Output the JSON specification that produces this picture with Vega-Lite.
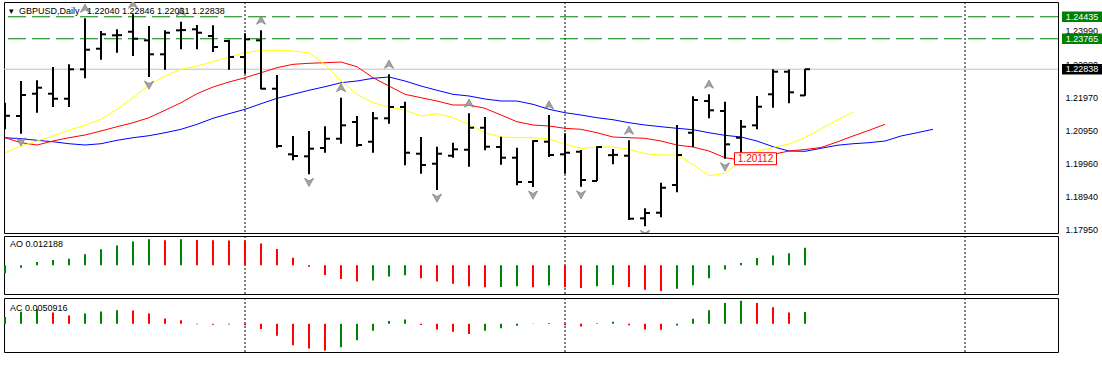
{
  "$schema": "https://vega.github.io/schema/vega-lite/v6.json",
  "padding": {"left": 2, "top": 1, "right": 0, "bottom": 0},
  "background": "white",
  "spacing": 0,
  "config": {
    "view": {"stroke": "#000000", "strokeWidth": 1},
    "font": "Liberation Sans",
    "axis": {"labelFont": "Liberation Sans", "labelFontSize": 9, "labelColor": "#000000", "gridColor": "#c0c0c0", "gridDash": [3, 3], "gridWidth": 1, "domain": false, "tickColor": "#000000", "title": null},
    "tick": {"opacity": 1},
    "point": {"opacity": 1}
  },
  "resolve": {"scale": {"x": "independent", "y": "independent", "color": "independent", "shape": "independent", "fill": "independent"}},
  "datasets": {
    "bars": [
      {"i":0,"o":1.21410,"h":1.21818,"l":1.21008,"c":1.21420,"ao":-0.00569,"aoDir":"up","ac":0.00296,"acDir":"up"},
      {"i":1,"o":1.21413,"h":1.22479,"l":1.20874,"c":1.22052,"ao":-0.00182,"aoDir":"up","ac":0.00518,"acDir":"up"},
      {"i":2,"o":1.22092,"h":1.22500,"l":1.21513,"c":1.22274,"ao":0.00228,"aoDir":"up","ac":0.00621,"acDir":"up"},
      {"i":3,"o":1.22092,"h":1.22905,"l":1.21687,"c":1.21939,"ao":0.00364,"aoDir":"up","ac":0.00488,"acDir":"down"},
      {"i":4,"o":1.21939,"h":1.22987,"l":1.21687,"c":1.22835,"ao":0.00455,"aoDir":"up","ac":0.00355,"acDir":"down"},
      {"i":5,"o":1.22835,"h":1.24388,"l":1.22561,"c":1.23432,"ao":0.00774,"aoDir":"up","ac":0.00444,"acDir":"up"},
      {"i":6,"o":1.23462,"h":1.24001,"l":1.23127,"c":1.23901,"ao":0.01115,"aoDir":"up","ac":0.00532,"acDir":"up"},
      {"i":7,"o":1.23870,"h":1.24053,"l":1.23340,"c":1.23875,"ao":0.01388,"aoDir":"up","ac":0.00577,"acDir":"up"},
      {"i":8,"o":1.23980,"h":1.24510,"l":1.23240,"c":1.23767,"ao":0.01661,"aoDir":"up","ac":0.00570,"acDir":"down"},
      {"i":9,"o":1.23718,"h":1.24153,"l":1.22600,"c":1.23292,"ao":0.01820,"aoDir":"up","ac":0.00444,"acDir":"down"},
      {"i":10,"o":1.23292,"h":1.24022,"l":1.22823,"c":1.23949,"ao":0.01752,"aoDir":"down","ac":0.00222,"acDir":"down"},
      {"i":11,"o":1.24022,"h":1.24284,"l":1.23444,"c":1.24030,"ao":0.01825,"aoDir":"up","ac":0.00148,"acDir":"down"},
      {"i":12,"o":1.24053,"h":1.24184,"l":1.23444,"c":1.23949,"ao":0.01760,"aoDir":"down","ac":-0.00020,"acDir":"down"},
      {"i":13,"o":1.23849,"h":1.24175,"l":1.23362,"c":1.23514,"ao":0.01750,"aoDir":"down","ac":-0.00040,"acDir":"down"},
      {"i":14,"o":1.23697,"h":1.23736,"l":1.22823,"c":1.23209,"ao":0.01740,"aoDir":"down","ac":-0.00030,"acDir":"up"},
      {"i":15,"o":1.23209,"h":1.23931,"l":1.22701,"c":1.23748,"ao":0.01730,"aoDir":"down","ac":-0.00060,"acDir":"down"},
      {"i":16,"o":1.23718,"h":1.24022,"l":1.22226,"c":1.22244,"ao":0.01524,"aoDir":"down","ac":-0.00220,"acDir":"down"},
      {"i":17,"o":1.22244,"h":1.22661,"l":1.20447,"c":1.20499,"ao":0.01138,"aoDir":"down","ac":-0.00520,"acDir":"down"},
      {"i":18,"o":1.20246,"h":1.20804,"l":1.20064,"c":1.20195,"ao":0.00523,"aoDir":"down","ac":-0.00920,"acDir":"down"},
      {"i":19,"o":1.20185,"h":1.20956,"l":1.19637,"c":1.20417,"ao":-0.00114,"aoDir":"down","ac":-0.01060,"acDir":"down"},
      {"i":20,"o":1.20438,"h":1.21099,"l":1.20295,"c":1.20721,"ao":-0.00683,"aoDir":"down","ac":-0.01150,"acDir":"down"},
      {"i":21,"o":1.20721,"h":1.21970,"l":1.20569,"c":1.21129,"ao":-0.00978,"aoDir":"down","ac":-0.01010,"acDir":"up"},
      {"i":22,"o":1.21230,"h":1.21413,"l":1.20478,"c":1.20530,"ao":-0.01138,"aoDir":"down","ac":-0.00710,"acDir":"up"},
      {"i":23,"o":1.20630,"h":1.21534,"l":1.20295,"c":1.21343,"ao":-0.01069,"aoDir":"up","ac":-0.00300,"acDir":"up"},
      {"i":24,"o":1.21343,"h":1.22683,"l":1.21178,"c":1.21687,"ao":-0.00796,"aoDir":"up","ac":0.00120,"acDir":"up"},
      {"i":25,"o":1.21687,"h":1.21848,"l":1.19911,"c":1.20295,"ao":-0.00705,"aoDir":"up","ac":0.00180,"acDir":"up"},
      {"i":26,"o":1.20265,"h":1.20773,"l":1.19655,"c":1.19920,"ao":-0.00910,"aoDir":"down","ac":-0.00050,"acDir":"down"},
      {"i":27,"o":1.19960,"h":1.20478,"l":1.19159,"c":1.20265,"ao":-0.01138,"aoDir":"down","ac":-0.00250,"acDir":"down"},
      {"i":28,"o":1.20204,"h":1.20600,"l":1.20143,"c":1.20399,"ao":-0.01297,"aoDir":"down","ac":-0.00340,"acDir":"down"},
      {"i":29,"o":1.20386,"h":1.21495,"l":1.19869,"c":1.21056,"ao":-0.01479,"aoDir":"down","ac":-0.00440,"acDir":"down"},
      {"i":30,"o":1.21056,"h":1.21382,"l":1.20368,"c":1.20478,"ao":-0.01547,"aoDir":"down","ac":-0.00300,"acDir":"up"},
      {"i":31,"o":1.20469,"h":1.20782,"l":1.19930,"c":1.20143,"ao":-0.01524,"aoDir":"up","ac":-0.00190,"acDir":"up"},
      {"i":32,"o":1.20143,"h":1.20447,"l":1.19302,"c":1.19403,"ao":-0.01479,"aoDir":"up","ac":-0.00090,"acDir":"up"},
      {"i":33,"o":1.19403,"h":1.20673,"l":1.19250,"c":1.20651,"ao":-0.01547,"aoDir":"down","ac":0.00010,"acDir":"up"},
      {"i":34,"o":1.20630,"h":1.21443,"l":1.20164,"c":1.20225,"ao":-0.01433,"aoDir":"up","ac":0.00030,"acDir":"up"},
      {"i":35,"o":1.20246,"h":1.20886,"l":1.19655,"c":1.20295,"ao":-0.01547,"aoDir":"down","ac":-0.00060,"acDir":"down"},
      {"i":36,"o":1.20325,"h":1.20377,"l":1.19260,"c":1.19464,"ao":-0.01593,"aoDir":"down","ac":-0.00120,"acDir":"down"},
      {"i":37,"o":1.19433,"h":1.20490,"l":1.19433,"c":1.20469,"ao":-0.01479,"aoDir":"up","ac":0.00020,"acDir":"up"},
      {"i":38,"o":1.20220,"h":1.20408,"l":1.19942,"c":1.20230,"ao":-0.01388,"aoDir":"up","ac":0.00090,"acDir":"up"},
      {"i":39,"o":1.20204,"h":1.20673,"l":1.18245,"c":1.18285,"ao":-0.01524,"aoDir":"down","ac":-0.00060,"acDir":"down"},
      {"i":40,"o":1.18297,"h":1.18602,"l":1.18054,"c":1.18459,"ao":-0.01729,"aoDir":"down","ac":-0.00250,"acDir":"down"},
      {"i":41,"o":1.18468,"h":1.19381,"l":1.18328,"c":1.19229,"ao":-0.01820,"aoDir":"down","ac":-0.00260,"acDir":"down"},
      {"i":42,"o":1.19311,"h":1.21139,"l":1.19089,"c":1.20225,"ao":-0.01661,"aoDir":"up","ac":-0.00070,"acDir":"up"},
      {"i":43,"o":1.20904,"h":1.22013,"l":1.20469,"c":1.21900,"ao":-0.01411,"aoDir":"up","ac":0.00220,"acDir":"up"},
      {"i":44,"o":1.21869,"h":1.22074,"l":1.21343,"c":1.21586,"ao":-0.00910,"aoDir":"up","ac":0.00580,"acDir":"up"},
      {"i":45,"o":1.21565,"h":1.21848,"l":1.20112,"c":1.20551,"ao":-0.00296,"aoDir":"up","ac":0.00890,"acDir":"up"},
      {"i":46,"o":1.20752,"h":1.21291,"l":1.20255,"c":1.21087,"ao":0.00159,"aoDir":"up","ac":0.00990,"acDir":"up"},
      {"i":47,"o":1.21129,"h":1.22022,"l":1.21008,"c":1.21696,"ao":0.00501,"aoDir":"up","ac":0.00890,"acDir":"down"},
      {"i":48,"o":1.22074,"h":1.22835,"l":1.21665,"c":1.22762,"ao":0.00683,"aoDir":"up","ac":0.00710,"acDir":"down"},
      {"i":49,"o":1.22762,"h":1.22830,"l":1.21799,"c":1.22134,"ao":0.00842,"aoDir":"up","ac":0.00490,"acDir":"down"},
      {"i":50,"o":1.22040,"h":1.22846,"l":1.22031,"c":1.22838,"ao":0.012188,"aoDir":"up","ac":0.0050916,"acDir":"up"}
    ],
    "alligator": [
      {"i":0,"jaw":1.20752,"teeth":1.20752,"lips":1.20295},
      {"i":1,"jaw":1.20721,"teeth":1.20600,"lips":1.20499},
      {"i":2,"jaw":1.20673,"teeth":1.20530,"lips":1.20651},
      {"i":3,"jaw":1.20630,"teeth":1.20651,"lips":1.20804},
      {"i":4,"jaw":1.20569,"teeth":1.20752,"lips":1.20977},
      {"i":5,"jaw":1.20530,"teeth":1.20834,"lips":1.21139},
      {"i":6,"jaw":1.20569,"teeth":1.20956,"lips":1.21312},
      {"i":7,"jaw":1.20673,"teeth":1.21087,"lips":1.21617},
      {"i":8,"jaw":1.20752,"teeth":1.21209,"lips":1.21970},
      {"i":9,"jaw":1.20813,"teeth":1.21361,"lips":1.22357},
      {"i":10,"jaw":1.20904,"teeth":1.21586,"lips":1.22631},
      {"i":11,"jaw":1.21008,"teeth":1.21818,"lips":1.22835},
      {"i":12,"jaw":1.21160,"teeth":1.22092,"lips":1.22935},
      {"i":13,"jaw":1.21343,"teeth":1.22296,"lips":1.23066},
      {"i":14,"jaw":1.21483,"teeth":1.22448,"lips":1.23210},
      {"i":15,"jaw":1.21617,"teeth":1.22579,"lips":1.23340},
      {"i":16,"jaw":1.21787,"teeth":1.22731,"lips":1.23414},
      {"i":17,"jaw":1.21952,"teeth":1.22884,"lips":1.23414},
      {"i":18,"jaw":1.22074,"teeth":1.22987,"lips":1.23392},
      {"i":19,"jaw":1.22196,"teeth":1.23018,"lips":1.23340},
      {"i":20,"jaw":1.22305,"teeth":1.23036,"lips":1.22987},
      {"i":21,"jaw":1.22427,"teeth":1.23057,"lips":1.22479},
      {"i":22,"jaw":1.22479,"teeth":1.22914,"lips":1.22074},
      {"i":23,"jaw":1.22561,"teeth":1.22579,"lips":1.21818},
      {"i":24,"jaw":1.22601,"teeth":1.22326,"lips":1.21687},
      {"i":25,"jaw":1.22479,"teeth":1.22074,"lips":1.21586},
      {"i":26,"jaw":1.22326,"teeth":1.21970,"lips":1.21413},
      {"i":27,"jaw":1.22196,"teeth":1.21870,"lips":1.21483},
      {"i":28,"jaw":1.22074,"teeth":1.21748,"lips":1.21361},
      {"i":29,"jaw":1.22022,"teeth":1.21748,"lips":1.21160},
      {"i":30,"jaw":1.21931,"teeth":1.21647,"lips":1.20904},
      {"i":31,"jaw":1.21870,"teeth":1.21443,"lips":1.20773},
      {"i":32,"jaw":1.21870,"teeth":1.21239,"lips":1.20752},
      {"i":33,"jaw":1.21769,"teeth":1.21139,"lips":1.20752},
      {"i":34,"jaw":1.21617,"teeth":1.21108,"lips":1.20721},
      {"i":35,"jaw":1.21513,"teeth":1.21038,"lips":1.20551},
      {"i":36,"jaw":1.21443,"teeth":1.21008,"lips":1.20429},
      {"i":37,"jaw":1.21361,"teeth":1.20904,"lips":1.20469},
      {"i":38,"jaw":1.21300,"teeth":1.20773,"lips":1.20469},
      {"i":39,"jaw":1.21209,"teeth":1.20752,"lips":1.20399},
      {"i":40,"jaw":1.21139,"teeth":1.20734,"lips":1.20265},
      {"i":41,"jaw":1.21087,"teeth":1.20651,"lips":1.20225},
      {"i":42,"jaw":1.21038,"teeth":1.20530,"lips":1.20225},
      {"i":43,"jaw":1.20996,"teeth":1.20469,"lips":1.19942},
      {"i":44,"jaw":1.20904,"teeth":1.20347,"lips":1.19585},
      {"i":45,"jaw":1.20825,"teeth":1.20143,"lips":1.19677},
      {"i":46,"jaw":1.20773,"teeth":1.20073,"lips":1.20042},
      {"i":47,"jaw":1.20651,"teeth":1.20134,"lips":1.20347},
      {"i":48,"jaw":1.20478,"teeth":1.20246,"lips":1.20453},
      {"i":49,"jaw":1.20347,"teeth":1.20347,"lips":1.20560},
      {"i":50,"jaw":1.20338,"teeth":1.20393,"lips":1.20758},
      {"i":51,"jaw":1.20429,"teeth":1.20453,"lips":1.21017},
      {"i":52,"jaw":1.20521,"teeth":1.20621,"lips":1.21291},
      {"i":53,"jaw":1.20569,"teeth":1.20804,"lips":1.21535},
      {"i":54,"jaw":1.20600,"teeth":1.20977},
      {"i":55,"jaw":1.20651,"teeth":1.21160},
      {"i":56,"jaw":1.20804},
      {"i":57,"jaw":1.20904},
      {"i":58,"jaw":1.21008}
    ],
    "fractals": [
      {"i":1,"f":"down","p":1.20874},{"i":5,"f":"up","p":1.24388},{"i":8,"f":"up","p":1.24510},
      {"i":9,"f":"down","p":1.22600},{"i":11,"f":"up","p":1.24284},{"i":16,"f":"up","p":1.24022},
      {"i":19,"f":"down","p":1.19637},{"i":21,"f":"up","p":1.21970},{"i":24,"f":"up","p":1.22683},
      {"i":27,"f":"down","p":1.19159},{"i":29,"f":"up","p":1.21495},{"i":33,"f":"down","p":1.19250},
      {"i":34,"f":"up","p":1.21443},{"i":36,"f":"down","p":1.19260},{"i":39,"f":"up","p":1.20673},
      {"i":40,"f":"down","p":1.18054},{"i":44,"f":"up","p":1.22074},{"i":45,"f":"down","p":1.20112}
    ],
    "levels": [
      {"p":1.24435,"kind":"line"},
      {"p":1.23765,"kind":"line"},
      {"p":1.22838,"kind":"bid"},
      {"p":1.20112,"kind":"low","i":45}
    ],
    "captions": [
      {"panel":"main","t":"▾\u00a0\u00a0GBPUSD,Daily\u00a0\u00a0\u00a01.22040 1.22846 1.22031 1.22838","i":0,"v":1.24510},
      {"panel":"ao","t":"AO 0.012188","i":0,"v":0.020474},
      {"panel":"ac","t":"AC 0.0050916","i":0,"v":0.0110903}
    ],
    "pticks": [{"p":1.1795},{"p":1.1894},{"p":1.1996},{"p":1.2095},{"p":1.2197},{"p":1.2298},{"p":1.2399}],
    "seps": [{"s":15},{"s":35},{"s":60}]
  },
  "vconcat": [
    {
      "hconcat": [
        {
          "width": 1054,
          "height": 231,
          "layer": [
            {
              "data": {"name": "seps"},
              "mark": {"type": "rule", "color": "#000000", "strokeDash": [2, 2], "strokeWidth": 1},
              "encoding": {
                "x": {"field": "s", "type": "quantitative", "scale": {"domain": [-0.0625, 65.8125], "nice": false, "zero": false},
                  "axis": {"values": [0,2,4,6,8,10,12,14,16,18,20,22,24,26,28,30,32,34,36,38,40,42,44,46,48,50,52,54,56,58,60,62,64], "labels": false, "ticks": false, "domain": false, "grid": true, "title": null, "minExtent": 0, "maxExtent": 0,
                    "encode": {"grid": {"update": {"opacity": {"signal": "datum.value === 0 ? 0 : 1"}}}}}}
              }
            },
            {
              "data": {"name": "levels"},
              "transform": [{"filter": "datum.kind === 'line'"}],
              "mark": {"type": "rule", "color": "#008000", "strokeDash": [18, 6], "strokeWidth": 1},
              "encoding": {
                "y": {"field": "p", "type": "quantitative", "scale": {"domain": [1.1785, 1.24885], "nice": false, "zero": false},
                  "axis": {"orient": "right", "values": [1.1795, 1.1894, 1.1996, 1.2095, 1.2197, 1.2298, 1.2399], "grid": true, "labels": false, "ticks": false, "domain": false, "title": null, "minExtent": 0, "maxExtent": 0}}
              }
            },
            {
              "data": {"name": "levels"},
              "transform": [{"filter": "datum.kind === 'bid'"}],
              "mark": {"type": "rule", "color": "#c0c0c0", "strokeWidth": 1},
              "encoding": {
                "y": {"field": "p", "type": "quantitative", "scale": {"domain": [1.1785, 1.24885], "nice": false, "zero": false}, "axis": null}
              }
            },
            {
              "data": {"name": "alligator"},
              "mark": {"type": "line", "color": "#0000ff", "strokeWidth": 1},
              "encoding": {
                "x": {"field": "i", "type": "quantitative", "scale": {"domain": [-0.0625, 65.8125], "nice": false, "zero": false}, "axis": null},
                "y": {"field": "jaw", "type": "quantitative", "scale": {"domain": [1.1785, 1.24885], "nice": false, "zero": false}, "axis": null}
              }
            },
            {
              "data": {"name": "alligator"},
              "mark": {"type": "line", "color": "#ff0000", "strokeWidth": 1},
              "encoding": {
                "x": {"field": "i", "type": "quantitative", "scale": {"domain": [-0.0625, 65.8125], "nice": false, "zero": false}, "axis": null},
                "y": {"field": "teeth", "type": "quantitative", "scale": {"domain": [1.1785, 1.24885], "nice": false, "zero": false}, "axis": null}
              }
            },
            {
              "data": {"name": "alligator"},
              "mark": {"type": "line", "color": "#ffff00", "strokeWidth": 1},
              "encoding": {
                "x": {"field": "i", "type": "quantitative", "scale": {"domain": [-0.0625, 65.8125], "nice": false, "zero": false}, "axis": null},
                "y": {"field": "lips", "type": "quantitative", "scale": {"domain": [1.1785, 1.24885], "nice": false, "zero": false}, "axis": null}
              }
            },
            {
              "data": {"name": "bars"},
              "mark": {"type": "rule", "color": "#000000", "strokeWidth": 2},
              "encoding": {
                "x": {"field": "i", "type": "quantitative", "scale": {"domain": [-0.0625, 65.8125], "nice": false, "zero": false}, "axis": null},
                "y": {"field": "l", "type": "quantitative", "scale": {"domain": [1.1785, 1.24885], "nice": false, "zero": false}, "axis": null},
                "y2": {"field": "h"}
              }
            },
            {
              "data": {"name": "bars"},
              "transform": [{"filter": "datum.i > 0"}],
              "mark": {"type": "tick", "orient": "horizontal", "color": "#000000", "size": 5, "thickness": 2, "xOffset": -2.5, "opacity": 1},
              "encoding": {
                "x": {"field": "i", "type": "quantitative", "scale": {"domain": [-0.0625, 65.8125], "nice": false, "zero": false}, "axis": null},
                "y": {"field": "o", "type": "quantitative", "scale": {"domain": [1.1785, 1.24885], "nice": false, "zero": false}, "axis": null}
              }
            },
            {
              "data": {"name": "bars"},
              "mark": {"type": "tick", "orient": "horizontal", "color": "#000000", "size": 5, "thickness": 2, "xOffset": 2.5, "opacity": 1},
              "encoding": {
                "x": {"field": "i", "type": "quantitative", "scale": {"domain": [-0.0625, 65.8125], "nice": false, "zero": false}, "axis": null},
                "y": {"field": "c", "type": "quantitative", "scale": {"domain": [1.1785, 1.24885], "nice": false, "zero": false}, "axis": null}
              }
            },
            {
              "data": {"name": "fractals"},
              "transform": [{"filter": "datum.f === 'up'"}],
              "mark": {"type": "point", "shape": "M0,-0.7L0.75,0.65L0,0.25L-0.75,0.65Z", "size": 150, "filled": true, "fill": "#a4a4a4", "stroke": "#6e6e6e", "strokeWidth": 0.6, "opacity": 1, "yOffset": -10, "clip": true},
              "encoding": {
                "x": {"field": "i", "type": "quantitative", "scale": {"domain": [-0.0625, 65.8125], "nice": false, "zero": false}, "axis": null},
                "y": {"field": "p", "type": "quantitative", "scale": {"domain": [1.1785, 1.24885], "nice": false, "zero": false}, "axis": null}
              }
            },
            {
              "data": {"name": "fractals"},
              "transform": [{"filter": "datum.f === 'down'"}],
              "mark": {"type": "point", "shape": "M0,0.7L0.75,-0.65L0,-0.25L-0.75,-0.65Z", "size": 150, "filled": true, "fill": "#a4a4a4", "stroke": "#6e6e6e", "strokeWidth": 0.6, "opacity": 1, "yOffset": 8, "clip": true},
              "encoding": {
                "x": {"field": "i", "type": "quantitative", "scale": {"domain": [-0.0625, 65.8125], "nice": false, "zero": false}, "axis": null},
                "y": {"field": "p", "type": "quantitative", "scale": {"domain": [1.1785, 1.24885], "nice": false, "zero": false}, "axis": null}
              }
            },
            {
              "data": {"name": "levels"},
              "transform": [{"filter": "datum.kind === 'low'"}],
              "mark": {"type": "point", "shape": "M-1,-0.286L1,-0.286L1,0.286L-1,0.286Z", "size": 1764, "filled": true, "fill": "#ffffff", "stroke": "#ff0000", "strokeWidth": 1, "opacity": 1, "xOffset": 30.5},
              "encoding": {
                "x": {"field": "i", "type": "quantitative", "scale": {"domain": [-0.0625, 65.8125], "nice": false, "zero": false}, "axis": null},
                "y": {"field": "p", "type": "quantitative", "scale": {"domain": [1.1785, 1.24885], "nice": false, "zero": false}, "axis": null}
              }
            },
            {
              "data": {"name": "levels"},
              "transform": [{"filter": "datum.kind === 'low'"}],
              "mark": {"type": "text", "color": "#ff0000", "fontSize": 10, "font": "Liberation Sans", "align": "center", "baseline": "middle", "xOffset": 30.5},
              "encoding": {
                "x": {"field": "i", "type": "quantitative", "scale": {"domain": [-0.0625, 65.8125], "nice": false, "zero": false}, "axis": null},
                "y": {"field": "p", "type": "quantitative", "scale": {"domain": [1.1785, 1.24885], "nice": false, "zero": false}, "axis": null},
                "text": {"field": "p", "type": "quantitative", "format": ".5f"}
              }
            },
            {
              "data": {"name": "captions"},
              "transform": [{"filter": "datum.panel === 'main'"}],
              "mark": {"type": "text", "color": "#000000", "fontSize": 9, "font": "Liberation Sans", "align": "left", "baseline": "middle", "dx": 4, "dy": -3},
              "encoding": {
                "x": {"field": "i", "type": "quantitative", "scale": {"domain": [-0.0625, 65.8125], "nice": false, "zero": false}, "axis": null},
                "y": {"field": "v", "type": "quantitative", "scale": {"domain": [1.1785, 1.24885], "nice": false, "zero": false}, "axis": null},
                "text": {"field": "t", "type": "nominal"}
              }
            }
          ]
        },
        {
          "width": 46,
          "height": 231,
          "view": {"stroke": null},
          "layer": [
            {
              "data": {"name": "pticks"},
              "mark": {"type": "text", "color": "#000000", "fontSize": 9, "font": "Liberation Sans", "align": "left", "baseline": "middle", "dx": -16.5},
              "encoding": {
                "y": {"field": "p", "type": "quantitative", "scale": {"domain": [1.1785, 1.24885], "nice": false, "zero": false}, "axis": null},
                "text": {"field": "p", "type": "quantitative", "format": ".5f"}
              }
            },
            {
              "data": {"name": "levels"},
              "transform": [{"filter": "datum.kind === 'line' || datum.kind === 'bid'"}],
              "mark": {"type": "point", "shape": "M-1,-0.26L1,-0.26L1,0.26L-1,0.26Z", "size": 1600, "filled": true, "opacity": 1, "strokeWidth": 0},
              "encoding": {
                "y": {"field": "p", "type": "quantitative", "scale": {"domain": [1.1785, 1.24885], "nice": false, "zero": false}, "axis": null},
                "fill": {"field": "kind", "type": "nominal", "scale": {"domain": ["line", "bid"], "range": ["#008000", "#000000"]}, "legend": null}
              }
            },
            {
              "data": {"name": "levels"},
              "transform": [{"filter": "datum.kind === 'line' || datum.kind === 'bid'"}],
              "mark": {"type": "text", "color": "#ffffff", "fontSize": 9, "font": "Liberation Sans", "align": "center", "baseline": "middle"},
              "encoding": {
                "y": {"field": "p", "type": "quantitative", "scale": {"domain": [1.1785, 1.24885], "nice": false, "zero": false}, "axis": null},
                "text": {"field": "p", "type": "quantitative", "format": ".5f"}
              }
            }
          ]
        }
      ],
      "spacing": 0,
      "resolve": {"scale": {"x": "independent", "y": "independent", "fill": "independent"}}
    },
    {
      "vconcat": [
        {
          "width": 1054,
          "height": 58,
          "layer": [
            {
              "data": {"name": "seps"},
              "mark": {"type": "rule", "color": "#000000", "strokeDash": [2, 2], "strokeWidth": 1},
              "encoding": {
                "x": {"field": "s", "type": "quantitative", "scale": {"domain": [-0.0625, 65.8125], "nice": false, "zero": false},
                  "axis": {"values": [0,2,4,6,8,10,12,14,16,18,20,22,24,26,28,30,32,34,36,38,40,42,44,46,48,50,52,54,56,58,60,62,64], "labels": false, "ticks": false, "domain": false, "grid": true, "title": null, "minExtent": 0, "maxExtent": 0,
                    "encode": {"grid": {"update": {"opacity": {"signal": "datum.value === 0 ? 0 : 1"}}}}}}
              }
            },
            {
              "data": {"name": "bars"},
              "mark": {"type": "rule", "strokeWidth": 2},
              "encoding": {
                "x": {"field": "i", "type": "quantitative", "scale": {"domain": [-0.0625, 65.8125], "nice": false, "zero": false}, "axis": null},
                "y": {"field": "ao", "type": "quantitative", "scale": {"domain": [-0.020227, 0.020474], "nice": false, "zero": false},
                  "axis": {"orient": "right", "values": [0.020474, 0, -0.020227], "grid": true, "tickSize": 2, "labelPadding": 1, "domain": false, "title": null,
                    "labelExpr": "datum.value > 0 ? '0.020474' : (datum.value < 0 ? '-0.020227' : '0.00')",
                    "encode": {
                      "labels": {"update": {"baseline": {"signal": "datum.value > 0 ? 'top' : (datum.value < 0 ? 'bottom' : 'middle')"}, "dy": {"signal": "datum.value > 0 ? 3 : (datum.value < 0 ? -3 : 0)"}}},
                      "grid": {"update": {"opacity": {"signal": "datum.value === 0 ? 1 : 0"}}}
                    }}},
                "y2": {"datum": 0},
                "color": {"field": "aoDir", "type": "nominal", "scale": {"domain": ["up", "down"], "range": ["#008000", "#ff0000"]}, "legend": null}
              }
            },
            {
              "data": {"name": "captions"},
              "transform": [{"filter": "datum.panel === 'ao'"}],
              "mark": {"type": "text", "color": "#000000", "fontSize": 9, "font": "Liberation Sans", "align": "left", "baseline": "middle", "dx": 5, "dy": 7.7},
              "encoding": {
                "x": {"field": "i", "type": "quantitative", "scale": {"domain": [-0.0625, 65.8125], "nice": false, "zero": false}, "axis": null},
                "y": {"field": "v", "type": "quantitative", "scale": {"domain": [-0.020227, 0.020474], "nice": false, "zero": false}, "axis": null},
                "text": {"field": "t", "type": "nominal"}
              }
            }
          ]
        },
        {
          "width": 1054,
          "height": 54,
          "layer": [
            {
              "data": {"name": "seps"},
              "mark": {"type": "rule", "color": "#000000", "strokeDash": [2, 2], "strokeWidth": 1},
              "encoding": {
                "x": {"field": "s", "type": "quantitative", "scale": {"domain": [-0.0625, 65.8125], "nice": false, "zero": false},
                  "axis": {"values": [0,2,4,6,8,10,12,14,16,18,20,22,24,26,28,30,32,34,36,38,40,42,44,46,48,50,52,54,56,58,60,62,64], "grid": true, "domain": false, "title": null,
                    "tickSize": 4, "labelPadding": 1, "labelAlign": "left", "labelBaseline": "top", "labelFlush": false, "labelOverlap": false, "labelBound": false,
                    "labelExpr": "(datum.value % 4 === 0 && datum.value <= 48) ? ['11 Jan 2023','17 Jan 2023','23 Jan 2023','27 Jan 2023','2 Feb 2023','8 Feb 2023','14 Feb 2023','20 Feb 2023','24 Feb 2023','2 Mar 2023','8 Mar 2023','14 Mar 2023','20 Mar 2023'][datum.value / 4] : ''",
                    "encode": {
                      "ticks": {"update": {"opacity": {"signal": "(datum.value % 4 === 0 && datum.value <= 48) ? 1 : 0"}}},
                      "grid": {"update": {"opacity": {"signal": "datum.value === 0 ? 0 : 1"}}}
                    }}}
              }
            },
            {
              "data": {"name": "bars"},
              "mark": {"type": "rule", "strokeWidth": 2},
              "encoding": {
                "x": {"field": "i", "type": "quantitative", "scale": {"domain": [-0.0625, 65.8125], "nice": false, "zero": false}, "axis": null},
                "y": {"field": "ac", "type": "quantitative", "scale": {"domain": [-0.012149, 0.0110903], "nice": false, "zero": false},
                  "axis": {"orient": "right", "values": [0.0110903, 0, -0.012149], "grid": true, "tickSize": 2, "labelPadding": 1, "domain": false, "title": null,
                    "labelExpr": "datum.value > 0 ? '0.0110903' : (datum.value < 0 ? '-0.012149' : '0.00')",
                    "encode": {
                      "labels": {"update": {"baseline": {"signal": "datum.value > 0 ? 'top' : (datum.value < 0 ? 'bottom' : 'middle')"}, "dy": {"signal": "datum.value > 0 ? 3 : (datum.value < 0 ? -3 : 0)"}}},
                      "grid": {"update": {"opacity": {"signal": "datum.value === 0 ? 1 : 0"}}}
                    }}},
                "y2": {"datum": 0},
                "color": {"field": "acDir", "type": "nominal", "scale": {"domain": ["up", "down"], "range": ["#008000", "#ff0000"]}, "legend": null}
              }
            },
            {
              "data": {"name": "captions"},
              "transform": [{"filter": "datum.panel === 'ac'"}],
              "mark": {"type": "text", "color": "#000000", "fontSize": 9, "font": "Liberation Sans", "align": "left", "baseline": "middle", "dx": 5, "dy": 9.7},
              "encoding": {
                "x": {"field": "i", "type": "quantitative", "scale": {"domain": [-0.0625, 65.8125], "nice": false, "zero": false}, "axis": null},
                "y": {"field": "v", "type": "quantitative", "scale": {"domain": [-0.012149, 0.0110903], "nice": false, "zero": false}, "axis": null},
                "text": {"field": "t", "type": "nominal"}
              }
            }
          ]
        }
      ],
      "spacing": 2,
      "resolve": {"scale": {"x": "independent", "y": "independent", "color": "independent"}}
    }
  ]
}
